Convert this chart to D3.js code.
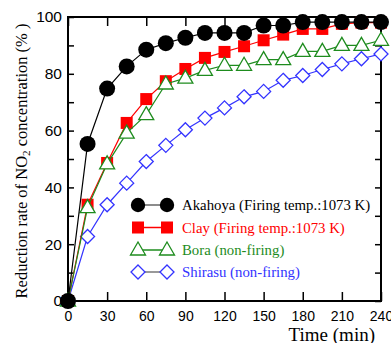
<!DOCTYPE html>
<html>
<head>
<meta charset="utf-8">
<script src="https://cdn.jsdelivr.net/npm/d3@7"></script>
<style>
html,body{margin:0;padding:0;background:#fff;}
svg{display:block;}
</style>
</head>
<body>
<svg id="chart" width="391" height="343"></svg>
<script>
const times = [0,15,30,45,60,75,90,105,120,135,150,165,180,195,210,225,240];
const akahoya = [0,55.3,74.8,82.6,88.5,90.8,92.7,94.4,94.4,94.4,97,97,98.2,98.2,98.2,98.2,98.2];
const clay    = [0,33.9,48.6,62.7,71.1,77.4,81.7,85.6,87.7,89.7,91.8,93.8,95.8,95.8,97.6,98,98];
const bora    = [0,32.9,48.3,59.1,65.6,76.4,78.5,81.2,83,83,85,85,87.9,87.9,90,90,91.8];
const shirasu = [0,22.7,33.9,41.5,49.1,54.8,60.3,64.4,68,71.9,73.8,77.7,79.4,81.5,83.5,85.3,87];
const seriesNames = ["Akahoya (Firing temp.:1073 K)","Clay (Firing temp.:1073 K)","Bora (non-firing)","Shirasu (non-firing)"];
const xTicks = [0,30,60,90,120,150,180,210,240];
const yTicks = [0,20,40,60,80,100];
const yMinor = [0,10,20,30,40,50,60,70,80,90,100];
const xTitle = "Time (min)";

const svg = d3.select("#chart");
const L = 68, R = 381, T = 17, B = 301;
const x = d3.scaleLinear().domain([0,240]).range([L,R]);
const y = d3.scaleLinear().domain([0,100]).range([B,T]);

const series = [
  {name:seriesNames[0], vals:akahoya, color:"#000", text:"#000", legLine:"#666", shape:"circle"},
  {name:seriesNames[1], vals:clay, color:"#ff0000", text:"#ff0000", legLine:"#ff0000", shape:"square"},
  {name:seriesNames[2], vals:bora, color:"#1e8c1e", text:"#1e8c1e", legLine:"#1e8c1e", shape:"triangle"},
  {name:seriesNames[3], vals:shirasu, color:"#3333ff", text:"#3333ff", legLine:"#777", shape:"diamond"}
];

function marker(g, shape, color, cx, cy, s){
  s = s || 1;
  if(shape==="circle"){
    g.append("circle").attr("cx",cx).attr("cy",cy).attr("r",8*s).attr("fill","#000");
  } else if(shape==="square"){
    g.append("rect").attr("x",cx-6*s).attr("y",cy-6*s).attr("width",12*s).attr("height",12*s).attr("fill",color);
  } else if(shape==="triangle"){
    g.append("path").attr("d",`M${cx},${cy-8*s}L${cx+7.5*s},${cy+5*s}L${cx-7.5*s},${cy+5*s}Z`)
      .attr("fill","#fff").attr("stroke",color).attr("stroke-width",1.3);
  } else {
    g.append("path").attr("d",`M${cx},${cy-7*s}L${cx+7*s},${cy}L${cx},${cy+7*s}L${cx-7*s},${cy}Z`)
      .attr("fill","#fff").attr("stroke",color).attr("stroke-width",1.3);
  }
}

// axes with inward ticks
const axB = d3.axisBottom(x).tickValues(xTicks).tickSizeInner(-9).tickSizeOuter(0).tickPadding(10);
const gB = svg.append("g").attr("transform",`translate(0,${B})`).call(axB);
gB.selectAll("text").attr("font-family","'Liberation Sans',Arial,sans-serif").attr("font-size",14).attr("fill","#000");
const axT = d3.axisTop(x).tickValues(xTicks).tickSizeInner(-9).tickSizeOuter(0).tickFormat("");
svg.append("g").attr("transform",`translate(0,${T})`).call(axT);
const axL = d3.axisLeft(y).tickValues(yMinor).tickSizeInner(-6).tickSizeOuter(0).tickPadding(6)
  .tickFormat(d => yTicks.includes(d) ? d : "");
const gL = svg.append("g").attr("transform",`translate(${L},0)`).call(axL);
gL.selectAll("text").attr("font-family","'Liberation Sans',Arial,sans-serif").attr("font-size",15.5).attr("fill","#000");
const axR = d3.axisRight(y).tickValues(yMinor).tickSizeInner(-6).tickSizeOuter(0).tickFormat("");
svg.append("g").attr("transform",`translate(${R},0)`).call(axR);
svg.selectAll(".domain").remove();
svg.selectAll(".tick line").attr("stroke","#000").attr("stroke-width",1.5);
svg.append("rect").attr("x",L).attr("y",T).attr("width",R-L).attr("height",B-T)
  .attr("fill","none").attr("stroke","#000").attr("stroke-width",2);

// series
const line = d3.line().x((d,i)=>x(times[i])).y(d=>y(d));
const order = [3,1,2,0];
order.forEach(k=>{
  const s = series[k];
  svg.append("path").datum(s.vals).attr("d",line).attr("fill","none").attr("stroke",s.color).attr("stroke-width",1.2);
  const g = svg.append("g");
  s.vals.forEach((v,i)=>marker(g,s.shape,s.color,x(times[i]),y(v)));
});

// legend
const legY = [205,227.5,250,272];
series.forEach((s,i)=>{
  const g = svg.append("g");
  const yy = legY[i];
  g.append("line").attr("x1",138).attr("x2",167).attr("y1",yy).attr("y2",yy).attr("stroke",s.legLine).attr("stroke-width",1.5);
  marker(g,s.shape,s.color,138,yy,s.shape==="circle"?0.9:1);
  marker(g,s.shape,s.color,167,yy,s.shape==="circle"?0.9:1);
  g.append("text").attr("x",182).attr("y",yy+5).attr("font-family","'Liberation Serif','Times New Roman',serif")
    .attr("font-size",14.8).attr("fill",s.text).text(s.name);
});

// titles
svg.append("text").attr("x",375).attr("y",341).attr("text-anchor","end")
  .attr("font-family","'Liberation Serif','Times New Roman',serif").attr("font-size",19).text(xTitle);
const yt = svg.append("text").attr("transform","translate(27,161) rotate(-90)").attr("text-anchor","middle")
  .attr("font-family","'Liberation Serif','Times New Roman',serif").attr("font-size",16.5);
yt.append("tspan").text("Reduction rate of NO");
yt.append("tspan").attr("font-size",11).attr("dy",3).text("2");
yt.append("tspan").attr("dy",-3).text(" concentration (% )");
</script>
</body>
</html>
